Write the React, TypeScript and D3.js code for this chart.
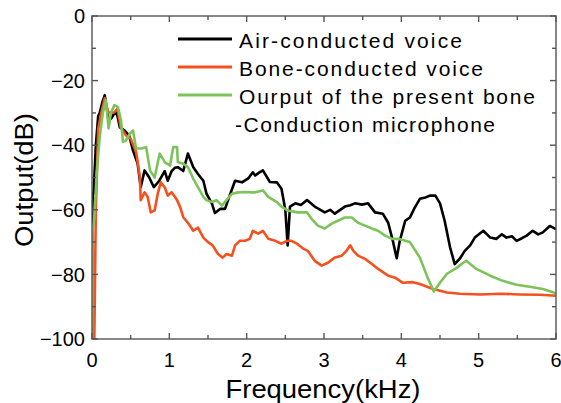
import React from "react";
import * as d3 from "d3";

// Frequency (kHz) / output (dB) readings for each measured spectrum
const airFreq = [0.0, 0.003, 0.01, 0.02, 0.05, 0.08, 0.1, 0.13, 0.165, 0.2, 0.21, 0.25, 0.28, 0.31, 0.33, 0.36, 0.42, 0.48, 0.53, 0.59, 0.63, 0.68, 0.74, 0.8, 0.87, 0.94, 0.98, 1.03, 1.07, 1.11, 1.18, 1.24, 1.31, 1.37, 1.44, 1.48, 1.55, 1.59, 1.66, 1.72, 1.78, 1.85, 1.94, 2.02, 2.08, 2.11, 2.16, 2.21, 2.3, 2.39, 2.45, 2.5, 2.53, 2.56, 2.63, 2.7, 2.78, 2.88, 3.01, 3.08, 3.14, 3.27, 3.34, 3.4, 3.49, 3.57, 3.66, 3.76, 3.83, 3.89, 3.94, 3.98, 4.05, 4.11, 4.17, 4.24, 4.31, 4.37, 4.44, 4.5, 4.56, 4.63, 4.69, 4.76, 4.82, 4.89, 4.95, 5.06, 5.15, 5.23, 5.3, 5.36, 5.43, 5.49, 5.56, 5.62, 5.7, 5.77, 5.83, 5.92, 6.0];
const airDb = [-100, -64, -55, -55, -40, -31, -30, -27, -24.5, -30, -32, -31.7, -30.5, -30, -31, -34.5, -35.4, -37, -41.6, -45.7, -53, -47.8, -50, -53, -51, -48, -51, -48, -47, -46.8, -48, -42.6, -46.8, -48.9, -51, -55, -58, -61, -59.7, -59.7, -55.6, -51, -51.5, -50.3, -48.4, -49.4, -48.5, -47.8, -51.4, -51.5, -53.5, -60, -71, -59, -58, -58.5, -57, -59, -60.8, -60, -61.2, -59, -58.6, -58, -58.4, -58, -60.8, -61.2, -64, -69.6, -75, -69.6, -63.4, -62.4, -59.5, -56.6, -56.2, -55.6, -55.6, -58, -63.4, -71.6, -76.8, -75, -72.7, -71, -68.6, -66.5, -68.6, -69, -67.6, -68.6, -68.2, -69.6, -68.8, -68, -66.5, -67.6, -67, -65, -66];

const boneFreq = [0.03, 0.05, 0.08, 0.12, 0.165, 0.21, 0.25, 0.29, 0.33, 0.37, 0.44, 0.5, 0.57, 0.62, 0.63, 0.68, 0.72, 0.76, 0.81, 0.85, 0.89, 0.94, 0.98, 1.03, 1.1, 1.14, 1.18, 1.24, 1.31, 1.37, 1.44, 1.5, 1.56, 1.63, 1.69, 1.74, 1.81, 1.85, 1.91, 1.98, 2.04, 2.08, 2.15, 2.21, 2.28, 2.37, 2.45, 2.52, 2.58, 2.65, 2.73, 2.79, 2.88, 2.97, 3.05, 3.14, 3.23, 3.29, 3.34, 3.38, 3.44, 3.53, 3.62, 3.7, 3.83, 3.92, 4.02, 4.15, 4.24, 4.41, 4.59, 4.76, 5.02, 5.28, 5.53, 5.79, 6.0];
const boneDb = [-100, -60, -35, -30, -25.5, -29.8, -30, -29.8, -28.7, -34.4, -37, -38, -42, -50, -57, -54.6, -56, -60.8, -60.2, -55, -51.5, -53, -55.6, -54.6, -57, -59.2, -62.3, -64, -66.5, -65.5, -68.6, -70, -71, -73.7, -74.8, -73.7, -74.2, -71, -69.6, -69.6, -69, -66.5, -67.4, -66.5, -69, -69.6, -70.5, -69.6, -69.6, -70.5, -72, -72.7, -75.8, -77.3, -76.4, -74.8, -74.2, -72.7, -71, -72.7, -74.2, -75.2, -76.8, -78.3, -80.4, -81, -82.6, -82.4, -83, -84.5, -85.6, -86, -86.2, -86, -86.2, -86.3, -86.6];

const micFreq = [0.0, 0.005, 0.03, 0.06, 0.1, 0.14, 0.18, 0.215, 0.245, 0.29, 0.335, 0.375, 0.4, 0.44, 0.49, 0.53, 0.57, 0.64, 0.7, 0.75, 0.81, 0.875, 0.944, 1.01, 1.05, 1.1, 1.11, 1.18, 1.24, 1.31, 1.37, 1.44, 1.48, 1.55, 1.61, 1.68, 1.74, 1.81, 1.89, 1.98, 2.07, 2.11, 2.21, 2.28, 2.39, 2.45, 2.53, 2.66, 2.78, 2.84, 2.92, 3.01, 3.1, 3.18, 3.27, 3.36, 3.44, 3.53, 3.62, 3.7, 3.79, 3.88, 3.96, 4.05, 4.11, 4.24, 4.34, 4.42, 4.5, 4.59, 4.72, 4.8, 4.84, 4.97, 5.15, 5.31, 5.49, 5.66, 5.83, 5.96, 6.0];
const micDb = [-100, -67, -62.4, -48.8, -37.5, -30, -26, -34.8, -30, -27.6, -28.2, -32.3, -39, -38.5, -36.4, -35.4, -41, -41, -40.6, -47.8, -50, -42.6, -45.3, -46.3, -40.6, -40.6, -45.3, -45.7, -46.8, -50.4, -53, -56, -57, -57.6, -57, -58.7, -57, -55, -54.6, -54.5, -54.6, -54.6, -54, -56, -57.6, -59, -60.2, -60.8, -60.8, -62.8, -64.9, -65.8, -64.3, -63.4, -62.4, -62.4, -64, -64.9, -65.8, -66.5, -68, -69, -69, -69.6, -70, -74.8, -81, -85.3, -82.6, -79.8, -77.9, -76.4, -75.8, -78.3, -80.4, -82, -83.2, -83.8, -84.5, -85.5, -86];

const legendLabels = [
  "Air-conducted voice",
  "Bone-conducted voice",
  "Ourput of the present bone",
];
const legendContinuation = "-Conduction microphone";

const xMajorTicks = [0, 1, 2, 3, 4, 5, 6];
const xMinorTicks = [0.5, 1.5, 2.5, 3.5, 4.5, 5.5];
const yMajorTicks = [0, -20, -40, -60, -80, -100];
const yMinorTicks = [-10, -30, -50, -70, -90];

const series = [
  { freq: airFreq, db: airDb, color: "#000000" },
  { freq: boneFreq, db: boneDb, color: "#f4511e" },
  { freq: micFreq, db: micDb, color: "#7cc35a" },
];

export default function App() {
  const width = 561;
  const height = 403;
  const left = 92;
  const right = 556;
  const top = 16;
  const bottom = 339;

  const x = d3.scaleLinear().domain([0, 6]).range([left, right]);
  const y = d3.scaleLinear().domain([-100, 0]).range([bottom, top]);

  const line = d3
    .line<[number, number]>()
    .x((d) => x(d[0]))
    .y((d) => y(d[1]));

  const font = "'Liberation Sans', Arial, sans-serif";
  const axisColor = "#555";
  const legendRowY = [39, 67, 95];
  const legendWidths = [223, 244, 296];

  return (
    <svg
      width={width}
      height={height}
      style={{ position: "absolute", left: 0, top: 0, background: "#fff" }}
    >
      <defs>
        <clipPath id="plot">
          <rect x={left} y={top} width={right - left} height={bottom - top} />
        </clipPath>
      </defs>

      {/* curves */}
      <g clipPath="url(#plot)" fill="none" strokeWidth={2.6} strokeLinejoin="round">
        {series.map((s, i) => (
          <path
            key={i}
            d={line(s.freq.map((f, j) => [f, s.db[j]] as [number, number])) || ""}
            stroke={s.color}
          />
        ))}
      </g>

      {/* frame and inward ticks */}
      <g stroke={axisColor} strokeWidth={1.4}>
        <rect x={left} y={top} width={right - left} height={bottom - top} fill="none" />
        {xMajorTicks.map((t) => (
          <g key={"xM" + t}>
            <line x1={x(t)} x2={x(t)} y1={bottom} y2={bottom - 6} />
            <line x1={x(t)} x2={x(t)} y1={top} y2={top + 6} />
          </g>
        ))}
        {xMinorTicks.map((t) => (
          <g key={"xm" + t}>
            <line x1={x(t)} x2={x(t)} y1={bottom} y2={bottom - 4} />
            <line x1={x(t)} x2={x(t)} y1={top} y2={top + 4} />
          </g>
        ))}
        {yMajorTicks.map((t) => (
          <g key={"yM" + t}>
            <line x1={left} x2={left + 6} y1={y(t)} y2={y(t)} />
            <line x1={right} x2={right - 6} y1={y(t)} y2={y(t)} />
          </g>
        ))}
        {yMinorTicks.map((t) => (
          <g key={"ym" + t}>
            <line x1={left} x2={left + 4} y1={y(t)} y2={y(t)} />
            <line x1={right} x2={right - 4} y1={y(t)} y2={y(t)} />
          </g>
        ))}
      </g>

      {/* tick labels */}
      <g fontFamily={font} fontSize={20} fill="#000">
        {yMajorTicks.map((t) => (
          <text key={"yl" + t} x={85} y={y(t)} dy="0.36em" textAnchor="end">
            {t === 0 ? "0" : "\u2212" + Math.abs(t)}
          </text>
        ))}
        {xMajorTicks.map((t) => (
          <text key={"xl" + t} x={x(t)} y={367} textAnchor="middle">
            {t}
          </text>
        ))}
      </g>

      {/* axis titles */}
      <text
        x={323}
        y={398}
        textAnchor="middle"
        fontFamily={font}
        fontSize={26}
        textLength={195}
        lengthAdjust="spacingAndGlyphs"
      >
        Frequency(kHz)
      </text>
      <text
        transform={`translate(33,180) rotate(-90)`}
        textAnchor="middle"
        fontFamily={font}
        fontSize={26}
        textLength={134}
        lengthAdjust="spacingAndGlyphs"
      >
        Output(dB)
      </text>

      {/* legend */}
      <g fontFamily={font} fontSize={21}>
        {legendLabels.map((label, i) => (
          <g key={label}>
            <line
              x1={178}
              x2={232}
              y1={legendRowY[i]}
              y2={legendRowY[i]}
              stroke={series[i].color}
              strokeWidth={3}
            />
            <text
              x={239}
              y={legendRowY[i] + 9}
              textLength={legendWidths[i]}
              lengthAdjust="spacing"
            >
              {label}
            </text>
          </g>
        ))}
        <text x={235} y={132} textLength={260} lengthAdjust="spacing">
          {legendContinuation}
        </text>
      </g>
    </svg>
  );
}
